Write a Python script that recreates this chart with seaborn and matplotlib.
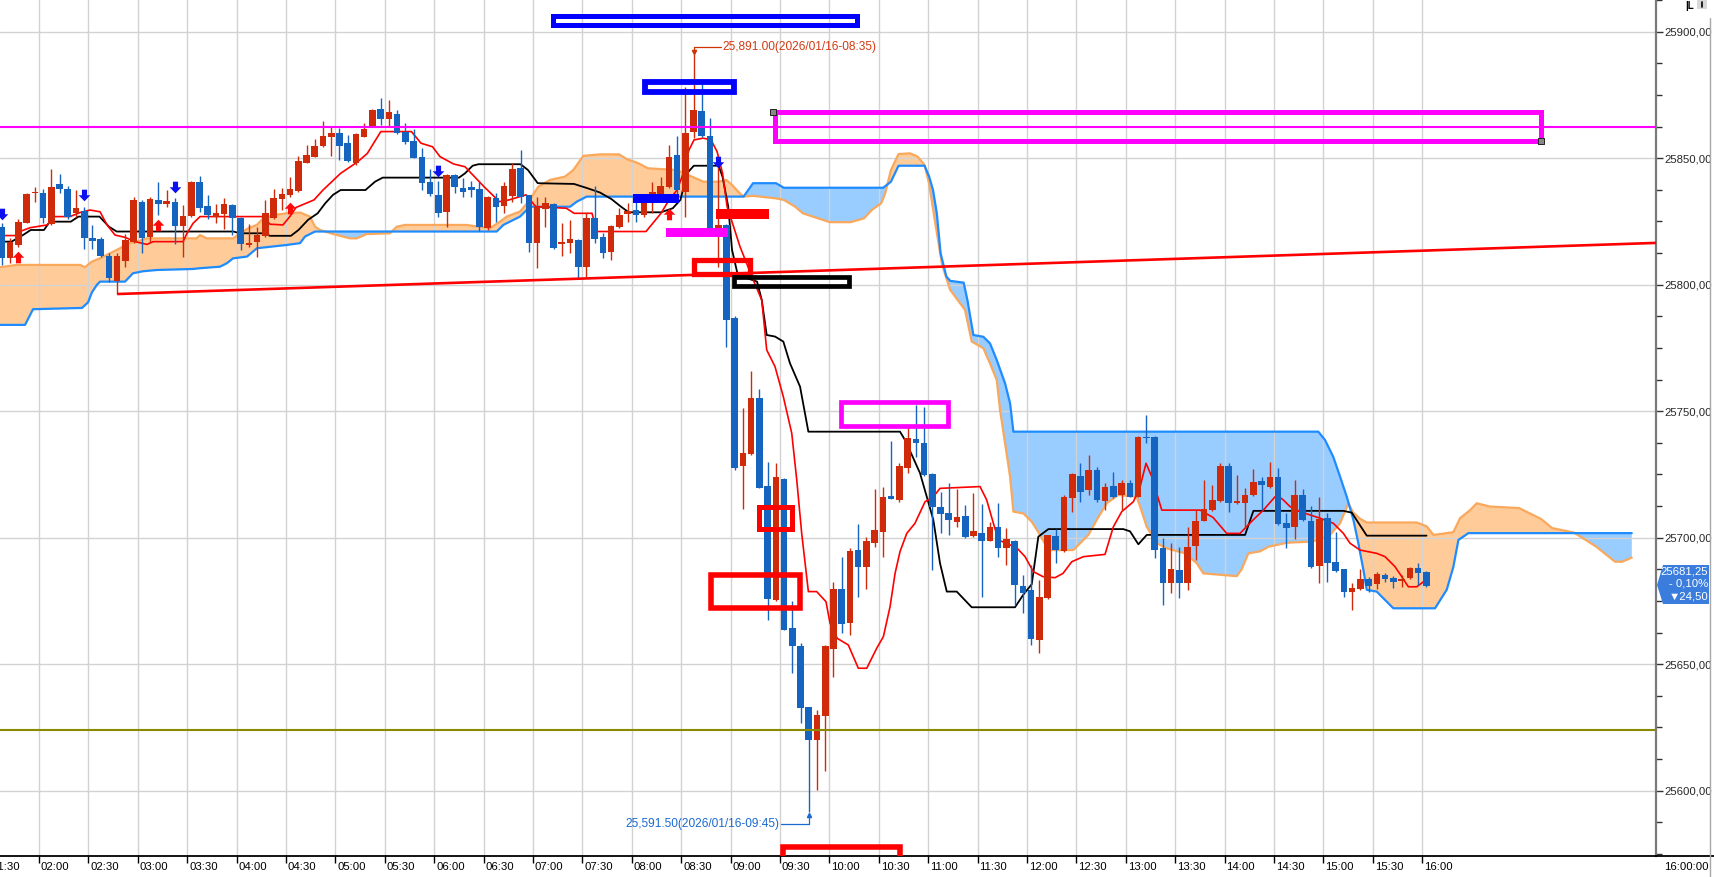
import numpy as np
import matplotlib
matplotlib.use("Agg")
import matplotlib.pyplot as plt
import matplotlib.transforms as mtransforms
from matplotlib import font_manager
from matplotlib.path import Path
from matplotlib.patches import Rectangle, Polygon
from matplotlib.lines import Line2D
from matplotlib.ticker import MultipleLocator, FixedLocator
import seaborn as sns

# ---------------- data (5-minute bars starting 01:35) ----------------
start_minute = 95
bar_minutes = 5

opens = [25822.9, 25810.7, 25815.7, 25824.5, 25836.1, 25836.4, 25823.8, 25839.8, 25838.0, 25828.5,
         25829.2, 25818.4, 25818.0, 25811.5, 25801.4, 25809.5, 25817.0, 25832.8, 25819.0, 25833.5,
         25832.0, 25832.7, 25823.2, 25827.1, 25840.5, 25831.0, 25826.9, 25827.9, 25831.4, 25826.5,
         25815.7, 25817.0, 25819.4, 25826.5, 25834.0, 25835.6, 25837.2, 25848.2, 25850.6, 25854.9,
         25858.5, 25860.1, 25855.9, 25848.2, 25858.5, 25862.5, 25869.3, 25865.4, 25867.5, 25860.5,
         25856.8, 25850.3, 25840.6, 25835.3, 25828.8, 25843.3, 25838.1, 25838.6, 25837.7, 25822.5,
         25834.1, 25831.1, 25835.0, 25846.0, 25835.4, 25816.6, 25829.8, 25831.9, 25815.9, 25816.6,
         25817.7, 25807.1, 25826.5, 25818.9, 25813.0, 25822.9, 25827.9, 25829.5, 25827.5, 25832.1,
         25835.8, 25838.7, 25851.3, 25836.7, 25860.5, 25868.6, 25858.8, 25822.2, 25823.6, 25786.7,
         25728.4, 25733.1, 25755.1, 25720.4, 25675.3, 25723.2, 25664.5, 25657.1, 25632.9, 25620.0,
         25629.6, 25656.2, 25679.6, 25666.4, 25695.1, 25688.5, 25698.0, 25702.4, 25716.5, 25714.9,
         25727.7, 25738.9, 25737.3, 25725.2, 25712.0, 25709.6, 25706.3, 25708.5, 25700.6, 25702.0,
         25698.8, 25704.3, 25695.8, 25698.8, 25680.9, 25679.3, 25659.5, 25676.0, 25700.6, 25694.8,
         25715.5, 25724.5, 25718.8, 25726.7, 25714.6, 25720.4, 25716.9, 25721.5, 25716.2, 25739.9,
         25739.9, 25695.8, 25682.2, 25687.2, 25681.9, 25696.8, 25706.7, 25710.9, 25714.6, 25728.3,
         25713.8, 25713.8, 25716.9, 25722.5, 25719.9, 25723.8, 25705.7, 25704.3, 25716.9, 25706.6,
         25688.9, 25707.6, 25690.2, 25687.5, 25678.4, 25679.6, 25683.5, 25681.5, 25685.1, 25683.9,
         25682.9, 25683.9, 25687.9, 25686.3]
closes = [25810.7, 25817.0, 25824.6, 25835.8, 25836.8, 25826.5, 25838.6, 25837.7, 25826.9, 25830.1,
          25818.6, 25817.4, 25811.5, 25802.8, 25811.5, 25817.6, 25833.5, 25818.6, 25833.9, 25832.0,
          25833.1, 25823.3, 25827.1, 25840.6, 25830.3, 25827.5, 25828.2, 25831.8, 25826.5, 25816.2,
          25816.5, 25819.6, 25828.3, 25834.3, 25835.8, 25837.8, 25848.9, 25851.1, 25854.8, 25858.8,
          25860.1, 25854.9, 25849.0, 25859.6, 25861.4, 25869.0, 25865.4, 25868.1, 25859.8, 25856.5,
          25850.2, 25840.3, 25835.7, 25828.4, 25843.3, 25838.7, 25836.8, 25837.4, 25822.9, 25834.5,
          25830.8, 25839.0, 25845.6, 25834.8, 25816.3, 25830.8, 25832.2, 25814.3, 25816.7, 25817.9,
          25807.1, 25826.5, 25818.2, 25812.4, 25823.2, 25827.5, 25829.1, 25827.5, 25832.1, 25836.8,
          25839.1, 25850.6, 25837.4, 25859.8, 25869.0, 25858.8, 25822.2, 25823.6, 25786.0, 25727.4,
          25733.3, 25755.1, 25719.8, 25675.7, 25723.8, 25663.5, 25657.1, 25632.5, 25620.0, 25629.9,
          25657.1, 25679.6, 25665.8, 25694.7, 25688.5, 25698.8, 25703.0, 25715.9, 25715.4, 25728.3,
          25739.3, 25737.5, 25724.8, 25712.0, 25709.2, 25707.0, 25708.3, 25700.1, 25702.7, 25698.8,
          25704.3, 25695.8, 25699.3, 25681.3, 25678.2, 25659.8, 25676.6, 25701.0, 25695.1, 25716.2,
          25725.2, 25718.2, 25726.7, 25714.9, 25719.9, 25716.2, 25721.5, 25716.2, 25739.9, 25739.3,
          25695.1, 25681.9, 25687.5, 25681.9, 25696.4, 25706.6, 25711.2, 25714.9, 25728.3, 25713.8,
          25714.5, 25716.9, 25722.0, 25720.8, 25723.8, 25705.3, 25703.7, 25716.9, 25707.0, 25688.3,
          25707.2, 25690.1, 25686.9, 25678.4, 25680.0, 25683.5, 25681.0, 25685.5, 25683.8, 25682.3,
          25683.5, 25687.9, 25685.9, 25681.0]
highs = [25824.2, 25818.3, 25825.8, 25836.4, 25838.7, 25837.7, 25845.7, 25843.8, 25839.0, 25837.4,
         25830.8, 25823.6, 25819.0, 25812.4, 25812.4, 25820.0, 25834.5, 25833.5, 25834.8, 25840.7,
         25837.4, 25834.1, 25831.5, 25841.1, 25843.0, 25835.5, 25831.8, 25834.1, 25831.8, 25826.9,
         25823.8, 25822.9, 25833.5, 25838.0, 25838.3, 25842.4, 25850.9, 25855.2, 25857.5, 25864.7,
         25862.5, 25862.1, 25859.1, 25860.1, 25864.0, 25869.3, 25873.7, 25873.0, 25869.0, 25863.8,
         25861.4, 25853.9, 25845.6, 25841.0, 25843.6, 25843.6, 25842.3, 25841.0, 25840.7, 25835.1,
         25836.1, 25840.7, 25848.0, 25853.2, 25835.6, 25834.8, 25834.5, 25832.2, 25824.2, 25825.6,
         25817.9, 25828.2, 25839.0, 25820.3, 25823.6, 25830.2, 25832.1, 25834.1, 25835.4, 25840.7,
         25842.7, 25855.2, 25858.8, 25878.3, 25891.0, 25879.6, 25865.7, 25847.3, 25823.8, 25787.6,
         25751.1, 25765.9, 25758.6, 25729.8, 25729.4, 25723.5, 25674.9, 25658.2, 25633.2, 25631.8,
         25657.5, 25682.6, 25692.2, 25695.8, 25705.4, 25700.4, 25719.1, 25720.1, 25738.3, 25729.6,
         25743.9, 25752.4, 25751.8, 25725.5, 25718.2, 25721.5, 25719.1, 25712.9, 25717.5, 25713.3,
         25706.3, 25713.6, 25703.7, 25699.0, 25685.1, 25689.2, 25683.2, 25701.2, 25703.3, 25716.8,
         25725.4, 25729.4, 25732.7, 25728.1, 25721.5, 25726.1, 25722.8, 25722.8, 25740.2, 25748.5,
         25740.2, 25699.7, 25697.8, 25696.4, 25704.3, 25710.9, 25722.8, 25720.8, 25729.6, 25729.4,
         25724.8, 25719.5, 25727.0, 25724.1, 25730.0, 25727.4, 25709.9, 25722.8, 25719.1, 25712.5,
         25716.2, 25709.6, 25702.3, 25687.8, 25681.9, 25687.5, 25684.6, 25686.5, 25685.9, 25684.8,
         25685.2, 25688.5, 25690.1, 25686.8]
lows = [25807.8, 25808.4, 25815.0, 25824.2, 25832.8, 25824.2, 25823.6, 25836.1, 25825.8, 25826.9,
        25814.0, 25814.0, 25811.1, 25801.2, 25796.3, 25807.1, 25816.3, 25812.4, 25817.0, 25827.5,
        25830.8, 25815.9, 25810.8, 25826.9, 25828.9, 25825.8, 25824.2, 25821.9, 25819.6, 25813.7,
        25814.7, 25810.8, 25819.0, 25825.8, 25829.5, 25834.8, 25836.8, 25848.0, 25850.3, 25854.6,
        25850.9, 25849.3, 25848.6, 25847.3, 25858.2, 25862.2, 25863.1, 25862.5, 25859.6, 25855.6,
        25849.9, 25837.4, 25835.2, 25826.6, 25822.7, 25836.4, 25834.5, 25834.5, 25821.3, 25821.6,
        25824.9, 25828.4, 25832.8, 25832.2, 25813.0, 25806.4, 25822.9, 25814.1, 25811.4, 25812.4,
        25802.1, 25803.1, 25816.3, 25810.4, 25809.7, 25822.2, 25824.9, 25824.9, 25826.9, 25828.2,
        25834.8, 25838.1, 25834.1, 25826.9, 25858.0, 25858.5, 25821.9, 25807.1, 25775.5, 25726.7,
        25711.3, 25732.7, 25719.5, 25667.4, 25674.9, 25663.5, 25646.4, 25626.6, 25591.5, 25600.2,
        25607.8, 25644.8, 25662.2, 25661.5, 25676.4, 25679.9, 25696.4, 25692.2, 25715.1, 25714.2,
        25725.4, 25731.7, 25724.4, 25687.2, 25701.7, 25701.0, 25704.3, 25699.7, 25700.1, 25676.6,
        25698.5, 25692.5, 25689.2, 25673.4, 25670.3, 25657.5, 25654.3, 25675.8, 25689.8, 25694.5,
        25710.3, 25714.2, 25716.8, 25714.2, 25710.9, 25715.5, 25710.9, 25715.9, 25715.9, 25737.3,
        25691.8, 25673.4, 25678.0, 25676.0, 25679.3, 25691.2, 25706.4, 25710.6, 25714.3, 25710.3,
        25713.5, 25704.3, 25716.6, 25710.9, 25719.6, 25705.0, 25695.8, 25699.3, 25706.7, 25688.0,
        25681.9, 25682.6, 25686.6, 25676.7, 25671.4, 25679.3, 25678.6, 25679.6, 25682.6, 25680.3,
        25680.6, 25683.6, 25681.3, 25680.6]

# conversion line (red) vertices: bar position, price
tenkan_x = [-0.23, 1.59, 2.20, 3.41, 5.48, 6.45, 8.27, 9.49, 10.70, 11.92, 12.77, 13.74, 14.95, 16.17,
            17.62, 18.35, 22.00, 22.48, 23.21, 24.06, 31.71, 32.56, 34.14, 34.99, 35.72, 37.91, 39.00,
            41.14, 43.23, 44.39, 46.02, 49.74, 50.90, 52.30, 53.21, 54.85, 56.25, 58.56, 60.43, 61.59,
            63.66, 64.85, 68.56, 69.49, 71.67, 72.28, 78.23, 80.05, 81.03, 82.00, 82.61, 83.45, 84.06,
            85.16, 86.13, 86.86, 87.53, 88.07, 89.65, 91.11, 92.29, 92.89, 93.90, 94.91, 95.93, 96.54,
            97.14, 97.95, 98.96, 100.09, 100.58, 101.47, 102.80, 104.02, 105.04, 106.25, 107.06, 107.87,
            108.48, 109.08, 109.90, 110.90, 112.12, 113.13, 113.94, 118.80, 119.61, 120.42, 121.03,
            123.26, 124.27, 125.27, 126.45, 127.91, 128.88, 129.94, 131.35, 133.98, 134.99, 136.01,
            137.42, 138.23, 138.96, 139.66, 140.87, 145.52, 147.10, 148.76, 150.38, 151.96, 153.21,
            154.83, 155.64, 156.45, 157.67, 160.10, 161.71, 162.93, 163.74, 164.96, 166.99, 167.99,
            169.21, 170.02, 170.82, 171.84, 173.03]
tenkan_y = [25819.4, 25819.4, 25821.0, 25822.5, 25823.6, 25826.9, 25826.9, 25828.5, 25829.5, 25828.8,
            25823.6, 25819.6, 25818.7, 25817.0, 25815.9, 25817.0, 25817.0, 25820.3, 25824.2, 25826.9,
            25826.9, 25823.9, 25823.6, 25827.0, 25830.5, 25833.5, 25837.4, 25844.0, 25848.6, 25851.9,
            25860.5, 25860.5, 25855.9, 25854.5, 25850.6, 25847.7, 25846.6, 25838.7, 25832.8, 25833.5,
            25835.5, 25830.8, 25830.2, 25828.2, 25828.2, 25821.0, 25821.0, 25828.2, 25833.5, 25837.4,
            25842.7, 25853.2, 25857.2, 25857.9, 25857.2, 25852.6, 25844.0, 25831.0, 25815.0, 25803.0,
            25793.9, 25774.2, 25767.6, 25755.7, 25741.3, 25722.8, 25701.7, 25678.7, 25678.7, 25674.7,
            25666.2, 25660.2, 25657.6, 25648.4, 25648.4, 25656.3, 25660.9, 25672.7, 25685.9, 25694.5,
            25701.7, 25705.7, 25714.2, 25716.2, 25719.5, 25720.2, 25714.9, 25705.7, 25699.1, 25696.0,
            25692.5, 25686.6, 25684.6, 25684.2, 25685.9, 25690.5, 25692.5, 25693.4, 25704.3, 25710.3,
            25714.2, 25720.0, 25729.4, 25724.1, 25710.9, 25710.9, 25708.0, 25701.7, 25701.7, 25707.0,
            25710.9, 25716.9, 25714.9, 25712.3, 25710.3, 25707.7, 25705.7, 25701.7, 25697.8, 25695.1,
            25693.8, 25692.5, 25688.5, 25684.6, 25680.6, 25680.6, 25683.5]

# base line (black)
kijun_x = [-0.23, 1.17, 2.56, 3.49, 5.11, 5.82, 8.37, 9.30, 11.85, 13.01, 13.94, 28.12, 28.92, 31.83,
           32.56, 35.10, 36.02, 37.18, 38.35, 39.28, 40.22, 41.14, 44.16, 45.32, 46.25, 55.52, 56.25,
           57.17, 57.88, 62.99, 63.90, 65.08, 69.49, 71.13, 72.65, 74.04, 75.20, 76.13, 80.05, 81.48,
           82.41, 83.21, 84.04, 87.05, 87.52, 88.22, 88.68, 89.38, 91.72, 92.29, 92.89, 93.90, 94.91,
           95.72, 96.94, 97.95, 109.08, 109.69, 110.70, 111.51, 112.33, 113.13, 113.94, 114.76, 115.97,
           117.79, 123.05, 124.06, 125.08, 125.88, 127.10, 136.20, 137.02, 138.03, 139.05, 150.99,
           152.00, 162.93, 163.95, 165.77, 173.03]
kijun_y = [25817.0, 25817.0, 25819.6, 25821.6, 25821.6, 25824.9, 25824.9, 25826.9, 25826.9, 25822.9,
           25821.0, 25821.0, 25820.3, 25820.3, 25819.3, 25819.3, 25821.6, 25825.6, 25828.2, 25832.2,
           25835.5, 25837.4, 25837.4, 25840.7, 25842.3, 25842.3, 25844.0, 25847.0, 25847.6, 25847.6,
           25845.3, 25840.1, 25839.8, 25838.1, 25836.4, 25833.8, 25830.8, 25828.6, 25828.6, 25830.2,
           25833.5, 25844.0, 25847.0, 25847.0, 25842.7, 25830.8, 25813.7, 25803.8, 25801.2, 25793.9,
           25780.1, 25779.5, 25777.5, 25768.9, 25759.7, 25741.9, 25741.9, 25738.6, 25731.4, 25725.5,
           25716.2, 25707.0, 25689.9, 25678.7, 25678.7, 25672.5, 25672.5, 25677.5, 25681.6, 25700.4,
           25703.4, 25703.4, 25702.5, 25697.4, 25701.1, 25701.1, 25710.6, 25710.6, 25709.9, 25700.8,
           25700.8]

# leading span A (orange) and leading span B (blue)
span_a_x = [-0.23, 1.80, 9.49, 10.09, 10.91, 11.91, 13.13, 14.35, 15.35, 16.37, 17.59, 23.66, 24.06,
            24.87, 28.11, 28.92, 29.93, 30.95, 31.75, 32.97, 34.59, 36.21, 37.42, 38.03, 38.64, 40.25,
            42.28, 43.09, 44.31, 47.14, 47.95, 48.96, 56.45, 57.67, 59.28, 60.50, 61.31, 62.93, 63.94,
            65.15, 66.57, 68.39, 69.40, 70.62, 72.65, 74.95, 75.90, 77.30, 78.45, 81.94, 83.80, 85.19,
            87.05, 87.99, 88.68, 89.61, 90.07, 91.23, 94.02, 94.96, 96.35, 97.28, 99.14, 100.53, 103.10,
            104.71, 105.65, 106.81, 107.28, 107.98, 108.90, 110.30, 111.22, 112.06, 112.61, 113.33,
            114.18, 115.16, 116.98, 117.79, 119.20, 120.01, 120.83, 121.23, 121.84, 122.45, 122.85,
            124.06, 125.08, 126.09, 127.10, 130.13, 130.95, 131.96, 132.97, 134.19, 135.60, 137.83,
            138.23, 139.05, 140.26, 141.48, 143.70, 145.12, 145.92, 149.98, 150.58, 151.39, 152.81,
            153.82, 156.05, 158.68, 160.10, 161.31, 162.53, 163.53, 164.11, 164.95, 165.77, 171.84,
            173.05, 173.86, 175.04, 176.29, 177.10, 178.32, 179.13, 180.75, 184.27, 186.94, 188.28,
            190.95, 193.62, 195.93, 196.78, 197.96]
span_a_y = [25806.9, 25807.8, 25807.8, 25806.9, 25809.1, 25810.4, 25812.4, 25814.4, 25816.4, 25817.0,
            25818.3, 25818.3, 25819.6, 25818.3, 25818.3, 25820.3, 25822.3, 25823.6, 25826.2, 25827.5,
            25828.2, 25828.5, 25826.9, 25822.9, 25821.6, 25820.0, 25818.3, 25818.3, 25820.0, 25820.3,
            25822.9, 25823.6, 25823.6, 25823.0, 25822.3, 25824.9, 25826.9, 25828.9, 25832.8, 25838.7,
            25841.4, 25842.7, 25845.3, 25850.9, 25851.5, 25851.5, 25849.6, 25848.0, 25846.0, 25845.3,
            25842.7, 25840.7, 25840.7, 25841.4, 25839.4, 25836.1, 25834.8, 25835.1, 25834.1, 25833.5,
            25830.8, 25828.2, 25826.2, 25824.7, 25824.7, 25826.2, 25829.5, 25832.2, 25836.1, 25845.3,
            25851.6, 25851.9, 25850.6, 25847.3, 25840.0, 25825.0, 25808.0, 25798.0, 25790.0, 25777.5,
            25774.9, 25768.9, 25762.3, 25750.5, 25737.3, 25724.1, 25710.3, 25709.6, 25706.3, 25701.1,
            25695.1, 25695.1, 25697.8, 25701.1, 25707.0, 25713.6, 25716.9, 25716.2, 25712.4, 25704.3,
            25697.8, 25695.8, 25693.8, 25689.9, 25685.9, 25684.8, 25687.5, 25693.8, 25694.6, 25696.4,
            25698.0, 25698.4, 25699.1, 25701.1, 25705.7, 25713.6, 25710.0, 25707.5, 25706.0, 25706.0,
            25704.5, 25701.1, 25701.6, 25702.2, 25707.7, 25710.9, 25713.6, 25712.3, 25711.7, 25707.4,
            25703.8, 25702.0, 25696.5, 25690.5, 25690.5, 25692.1]
span_b_x = [-0.23, 2.81, 3.78, 9.73, 10.46, 10.94, 11.55, 11.92, 14.95, 15.92, 17.14, 18.84, 23.21,
            24.06, 26.49, 27.34, 28.07, 29.77, 30.98, 34.63, 36.21, 36.81, 38.03, 60.10, 60.90, 62.93,
            64.14, 69.00, 69.82, 71.03, 90.08, 91.23, 94.02, 94.96, 107.04, 107.98, 108.90, 112.06,
            112.62, 113.09, 113.55, 114.01, 114.71, 115.18, 116.81, 117.27, 117.99, 119.20, 120.01,
            120.83, 121.84, 122.45, 122.85, 159.89, 160.70, 161.71, 162.53, 163.34, 164.15, 164.75,
            165.36, 165.77, 166.98, 169.00, 174.06, 175.48, 176.29, 176.90, 178.11, 197.96]
span_b_y = [25784.1, 25784.1, 25790.3, 25790.8, 25793.0, 25797.0, 25800.0, 25801.2, 25801.2, 25804.5,
            25805.3, 25805.8, 25806.2, 25806.5, 25807.1, 25808.5, 25810.4, 25811.1, 25814.4, 25815.7,
            25816.4, 25819.0, 25821.0, 25821.0, 25823.6, 25826.9, 25830.8, 25830.8, 25832.8, 25834.8,
            25834.8, 25840.1, 25840.1, 25838.3, 25838.3, 25840.7, 25847.0, 25847.0, 25842.7, 25837.4,
            25828.2, 25812.4, 25803.2, 25801.5, 25800.8, 25793.9, 25780.1, 25779.4, 25776.8, 25770.2,
            25761.0, 25753.1, 25741.9, 25741.9, 25738.6, 25731.9, 25724.1, 25716.2, 25707.0, 25697.8,
            25687.3, 25679.4, 25678.7, 25672.1, 25672.1, 25679.4, 25688.5, 25699.1, 25701.8, 25701.8]

# drawn objects
resistance_level = 25862.5
support_level = 25624.0
trend_start = (14.0, 25796.3)
trend_end = (200.9, 25816.5)
outline_boxes = [  # (x0, x1, y_low, y_high, color, width)
    (66.9, 103.9, 25902.5, 25906.3, "#0000ff", 3.6),
    (78.05, 88.9, 25876.0, 25879.9, "#0000ff", 4.2),
    (93.9, 186.9, 25856.8, 25868.3, "#ff00ff", 3.6),
    (84.0, 90.9, 25804.4, 25809.6, "#ff0000", 3.8),
    (88.9, 102.9, 25799.5, 25803.0, "#000000", 3.4),
    (101.9, 114.9, 25744.2, 25753.7, "#ff00ff", 3.4),
    (92.0, 96.0, 25703.4, 25712.2, "#ff0000", 3.6),
    (86.1, 96.9, 25672.4, 25685.1, "#ff0000", 4.0),
    (94.9, 109.1, 25565.0, 25577.8, "#ff0000", 4.0),
]
filled_bars = [
    (76.65, 82.2, 25832.3, 25835.9, "#0000ff"),
    (86.7, 93.2, 25825.9, 25829.9, "#ff0000"),
    (80.7, 88.2, 25818.8, 25822.4, "#ff00ff"),
]
handle_points = [(93.7, 25868.3), (186.95, 25856.8)]
sell_signals = [(0, 25827.9), (10, 25835.3), (21, 25838.4), (53, 25845.0), (87, 25848.6)]
buy_signals = [(2, 25811.1), (19, 25823.5), (35, 25830.4), (81, 25828.1)]
high_label = "25,891.00(2026/01/16-08:35)"
low_label = "25,591.50(2026/01/16-09:45)"
tick_times = list(range(90, 961, 30))
last_price = "25681,25"
last_change = "- 0,10%"
last_diff = "\u25bc24,50"
clock_label = "16:00:00"

# ---------------- style ----------------
sns.set_theme(style="white")
_names = {f.name for f in font_manager.fontManager.ttflist}
if "Liberation Sans Narrow" in _names:
    FONT = ["Liberation Sans Narrow", "DejaVu Sans"]
    FS = 10
else:
    FONT = ["Liberation Sans", "DejaVu Sans"]
    FS = 8.2
plt.rcParams["font.family"] = FONT

W, H = 1714, 877
fig = plt.figure(figsize=(W / 100, H / 100), dpi=100)
ax = fig.add_axes([0, 21 / H, 1656 / W, 856 / H])
ax.set_facecolor("white")
ax.set_autoscale_on(False)
XMIN, XMAX = -0.231, 200.9
YMIN, YMAX = 25574.2, 25912.5
ax.set_xlim(XMIN, XMAX)
ax.set_ylim(YMIN, YMAX)

def tpos(m):
    return (m - start_minute) / bar_minutes - 0.5

# grid
for lvl in range(25600, 25901, 50):
    ax.axhline(lvl, color="#d2d2d2", lw=1.0, zorder=0.6)
for m in tick_times:
    ax.axvline(tpos(m), color="#d2d2d2", lw=1.0, zorder=0.6)

# cloud
xs = np.linspace(XMIN, max(span_a_x), 6000)
a = np.interp(xs, span_a_x, span_a_y)
b = np.interp(xs, span_b_x, span_b_y)
ax.fill_between(xs, a, b, where=a >= b, interpolate=True, color="#ffcc99", lw=0, zorder=0.4)
ax.fill_between(xs, a, b, where=a < b, interpolate=True, color="#99ccff", lw=0, zorder=0.4)
sns.lineplot(x=span_a_x, y=span_a_y, ax=ax, color="#f9a85c", lw=1.6, sort=False,
             estimator=None, legend=False, zorder=2)
sns.lineplot(x=span_b_x, y=span_b_y, ax=ax, color="#1e8cff", lw=1.6, sort=False,
             estimator=None, legend=False, zorder=2.1)

# indicator lines
sns.lineplot(x=kijun_x, y=kijun_y, ax=ax, color="black", lw=1.3, sort=False,
             estimator=None, legend=False, zorder=3)
sns.lineplot(x=tenkan_x, y=tenkan_y, ax=ax, color="#ff0000", lw=1.2, sort=False,
             estimator=None, legend=False, zorder=3.1)

# candles
o = np.array(opens); c = np.array(closes); h = np.array(highs); l = np.array(lows)
idx = np.arange(len(o))
up = c >= o
col = np.where(up, "#cf2b0a", "#1565c0")
ax.vlines(idx, l, h, colors=col, lw=1.0, zorder=5)
body_lo = np.minimum(o, c)
body_h = np.maximum(np.abs(c - o), 0.45)
ax.bar(idx, body_h, bottom=body_lo, width=0.8, color=col, linewidth=0, zorder=6)

# horizontal / trend lines
ax.axhline(resistance_level, color="#ff00ff", lw=1.5, zorder=7)
ax.axhline(support_level, color="#8a8a00", lw=1.5, zorder=7)
ax.plot([trend_start[0], trend_end[0]], [trend_start[1], trend_end[1]],
        color="#ff0000", lw=1.9, zorder=7, solid_capstyle="butt", clip_on=True)

# signal arrows
down_arrow = Path([(-0.22, 0.5), (0.22, 0.5), (0.22, 0.02), (0.5, 0.02), (0.0, -0.5),
                   (-0.5, 0.02), (-0.22, 0.02), (-0.22, 0.5)])
up_arrow = Path([(x, -y) for x, y in down_arrow.vertices])
ax.scatter([p[0] for p in sell_signals], [p[1] for p in sell_signals], marker=down_arrow,
           s=70, color="#0a10f0", linewidths=0, zorder=8)
ax.scatter([p[0] for p in buy_signals], [p[1] for p in buy_signals], marker=up_arrow,
           s=70, color="#ff0a0a", linewidths=0, zorder=8)

# drawn boxes
for x0, x1, y0, y1, ecol, lw in outline_boxes:
    ax.add_patch(Rectangle((x0, y0), x1 - x0, y1 - y0, fill=False, ec=ecol, lw=lw,
                           joinstyle="miter", zorder=9))
for x0, x1, y0, y1, fcol in filled_bars:
    ax.add_patch(Rectangle((x0, y0), x1 - x0, y1 - y0, fc=fcol, ec="none", zorder=9))
ax.scatter([p[0] for p in handle_points], [p[1] for p in handle_points], marker="s",
           s=16, facecolor="#888888", edgecolor="#222222", linewidths=0.7, zorder=10)

# high / low labels
hi_i = int(np.argmax(h)); lo_i = int(np.argmin(l))
hi_y = 25893.95
ax.plot([hi_i, hi_i, hi_i + 3.35], [h[hi_i] + 0.6, hi_y, hi_y], color="#cc3300", lw=0.9, zorder=9)
ax.plot([hi_i], [h[hi_i] + 0.8], marker="v", ms=3, color="#cc3300", zorder=9)
ax.text(hi_i + 3.5, hi_y, high_label, color="#d13a12", fontsize=FS + 0.4, va="center",
        ha="left", zorder=9)
lo_y = 25586.7
ax.plot([lo_i - 3.4, lo_i, lo_i], [lo_y, lo_y, l[lo_i] - 0.6], color="#1a6ad0", lw=0.9, zorder=9)
ax.plot([lo_i], [l[lo_i] - 0.9], marker="^", ms=3, color="#1a6ad0", zorder=9)
ax.text(lo_i - 3.55, lo_y, low_label, color="#1a6ad0", fontsize=FS + 0.4, va="center",
        ha="right", zorder=9)

# axes / ticks
for side in ["left", "top"]:
    ax.spines[side].set_visible(False)
ax.spines["right"].set_color("#7a7a7a")
ax.spines["right"].set_linewidth(1.6)
ax.spines["bottom"].set_color("black")
ax.spines["bottom"].set_linewidth(1.3)
ax.yaxis.tick_right()
ax.yaxis.set_major_locator(FixedLocator(list(range(25600, 25901, 50))))
ax.yaxis.set_minor_locator(MultipleLocator(12.5))
ax.set_yticklabels([f"{v:.2f}".replace(".", ",") for v in range(25600, 25901, 50)])
ax.tick_params(axis="y", which="major", direction="out", length=5, width=1, color="#333333",
               labelsize=FS, pad=1, right=True, left=False)
ax.tick_params(axis="y", which="minor", direction="out", length=4, width=1, color="#333333",
               right=True, left=False)
ax.set_xticks([tpos(m) for m in tick_times])
ax.set_xticklabels([])
ax.tick_params(axis="x", which="major", direction="out", length=5, width=1, color="black",
               bottom=True)
trans = mtransforms.offset_copy(ax.get_xaxis_transform(), fig=fig, x=2, y=-6, units="dots")
for m in tick_times:
    ax.text(tpos(m), 0, f"{m // 60:02d}:{m % 60:02d}", transform=trans, ha="left", va="top",
            fontsize=FS, color="black", clip_on=False)
ax.set_xlabel(""); ax.set_ylabel("")

# figure decorations on the right panel
fig.add_artist(Line2D([1656 / W, 1.0], [21 / H, 21 / H], color="black", lw=1.3,
                      transform=fig.transFigure))
fig.add_artist(Line2D([1710 / W, 1710 / W], [0, 1 - 18 / H], color="#a8a8a8", lw=1.0,
                      transform=fig.transFigure))
fig.text(1664 / W, 1 - 862 / H, clock_label, ha="left", va="top", fontsize=FS, color="black")

def fx(px):
    return px / W

def fy(py):
    return 1 - py / H

box = [(1657, 585), (1663, 565), (1709, 565), (1709, 604), (1663, 604)]
fig.add_artist(Polygon([(fx(x), fy(y)) for x, y in box], closed=True, fc="#3a7ddc", ec="none",
                       transform=fig.transFigure))
for txt, yy in [(last_price, 571.5), (last_change, 584), (last_diff, 596.5)]:
    fig.text(fx(1708), fy(yy), txt, ha="right", va="center", fontsize=FS, color="white",
             family=FONT)

# small toolbar glyphs in top-right corner
fig.text(fx(1685), fy(1), "|L", ha="left", va="top", fontsize=7, fontweight="bold", color="black")
fig.add_artist(Rectangle((fx(1697), fy(9)), 10 / W, 9 / H, fc="#d8d8d8", ec="none",
                         transform=fig.transFigure))
fig.add_artist(Line2D([fx(1702), fx(1702)], [fy(7), fy(2)], color="black", lw=1.2,
                      transform=fig.transFigure))

ax.set_xlim(XMIN, XMAX)
ax.set_ylim(YMIN, YMAX)
fig.savefig("out.png", dpi=100)
